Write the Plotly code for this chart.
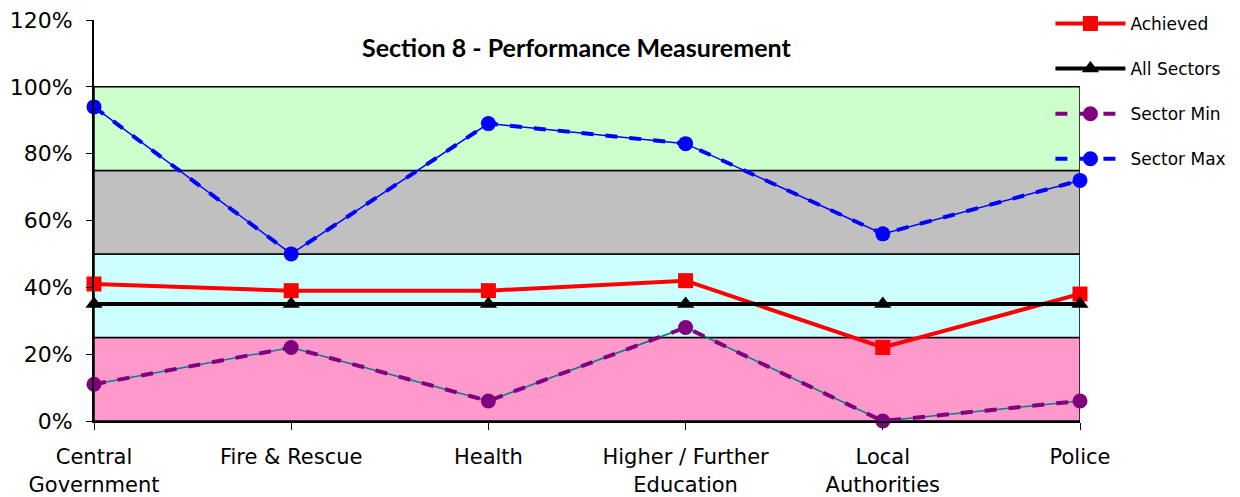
import plotly.graph_objects as go

# Sector labels along the x axis
categories = ["Central<br>Government", "Fire & Rescue", "Health",
              "Higher / Further<br>Education", "Local<br>Authorities", "Police"]

# Scores per sector (fractions of 100%)
achieved = [0.41, 0.39, 0.39, 0.42, 0.22, 0.38]
all_sectors = [0.35, 0.35, 0.35, 0.35, 0.35, 0.35]
sector_min = [0.11, 0.22, 0.06, 0.28, 0.00, 0.06]
sector_max = [0.94, 0.50, 0.89, 0.83, 0.56, 0.72]

# Background performance bands: (lower, upper, fill colour)
band_lows = [0.00, 0.25, 0.50, 0.75]
band_highs = [0.25, 0.50, 0.75, 1.00]
band_colors = ["#FF99CC", "#CCFFFF", "#C0C0C0", "#CCFFCC"]

title_text = "Section 8 - Performance Measurement"

x_idx = list(range(len(categories)))
font_family = "DejaVu Sans"

fig = go.Figure()

# Thin under-lines for the dashed min/max series
fig.add_trace(go.Scatter(x=x_idx, y=sector_min, mode="lines",
                         line=dict(color="#008080", width=1.5),
                         showlegend=False, hoverinfo="skip", cliponaxis=False))
fig.add_trace(go.Scatter(x=x_idx, y=sector_max, mode="lines",
                         line=dict(color="#0000FF", width=1.5),
                         showlegend=False, hoverinfo="skip", cliponaxis=False))

fig.add_trace(go.Scatter(x=x_idx, y=achieved, name="Achieved", mode="lines+markers",
                         line=dict(color="#FF0000", width=4),
                         marker=dict(symbol="square", size=15, color="#FF0000"),
                         legendgroup="a", cliponaxis=False))
fig.add_trace(go.Scatter(x=x_idx, y=all_sectors, name="All Sectors", mode="lines+markers",
                         line=dict(color="#000000", width=4),
                         marker=dict(symbol="triangle-up", size=15, color="#000000"),
                         legendgroup="b", cliponaxis=False))
fig.add_trace(go.Scatter(x=x_idx, y=sector_min, name="Sector Min", mode="lines+markers",
                         line=dict(color="#800080", width=4, dash="dash"),
                         marker=dict(symbol="circle", size=15, color="#800080"),
                         legendgroup="c", cliponaxis=False))
fig.add_trace(go.Scatter(x=x_idx, y=sector_max, name="Sector Max", mode="lines+markers",
                         line=dict(color="#0000FF", width=4, dash="dash"),
                         marker=dict(symbol="circle", size=15, color="#0000FF"),
                         legendgroup="d", cliponaxis=False))

for lo, hi, col in zip(band_lows, band_highs, band_colors):
    fig.add_shape(type="rect", xref="x", yref="y", x0=0, x1=len(categories) - 1,
                  y0=lo, y1=hi, fillcolor=col, line=dict(color="#000000", width=1.5),
                  layer="below")

fig.add_annotation(text="<b>" + title_text + "</b>", xref="paper", yref="paper",
                   x=0.489, y=0.9325, xanchor="center", yanchor="middle", showarrow=False,
                   font=dict(family="Lato", size=25, color="#000000"))

fig.update_layout(
    width=1240, height=497,
    margin=dict(l=94, r=160, t=20, b=76, autoexpand=False),
    paper_bgcolor="#FFFFFF", plot_bgcolor="#FFFFFF",
    font=dict(family=font_family, color="#000000"),
    legend=dict(x=0.970, y=1.035, xanchor="left", yanchor="top",
                bgcolor="rgba(0,0,0,0)", font=dict(size=17, family=font_family),
                tracegroupgap=20, itemwidth=70),
    xaxis=dict(tickmode="array", tickvals=x_idx, ticktext=categories,
               range=[0, len(categories) - 1], showgrid=False, zeroline=False,
               showline=True, linecolor="#000000", linewidth=2,
               ticks="outside", ticklen=7, tickcolor="#000000",
               tickfont=dict(size=21), ticklabelstandoff=9, automargin=False),
    yaxis=dict(range=[0, 1.2], dtick=0.2, tickformat=".0%", showgrid=False,
               zeroline=False, showline=True, linecolor="#000000", linewidth=2,
               ticks="outside", ticklen=6, tickcolor="#000000",
               tickfont=dict(size=22), ticklabelstandoff=9, automargin=False),
)

fig.write_html("out.html")
